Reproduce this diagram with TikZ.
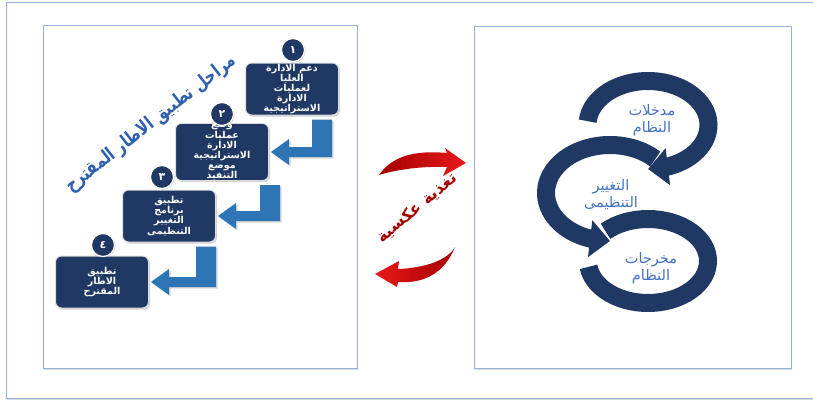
\documentclass[tikz,border=0pt]{standalone}
\usepackage{fontspec}
\newfontfamily\arabicfont[Script=Arabic]{DejaVu Sans}
\TeXXeTstate=1
\usetikzlibrary{arrows.meta,bending,shadows,calc}

\definecolor{boxnavy}{RGB}{31,56,100}
\definecolor{stepblue}{RGB}{46,117,182}
\definecolor{titleblue}{RGB}{47,95,175}
\definecolor{ringblue}{RGB}{68,114,196}
\definecolor{framecol}{RGB}{149,179,215}
\definecolor{fbdark}{RGB}{165,0,0}
\definecolor{fbred}{RGB}{232,25,25}

% one line of right-to-left text
\newcommand\artxt[1]{\beginR #1\endR}

% bent arrow from the step above to the step below
\newcommand\stepArrow[3]{%
  \fill[stepblue, drop shadow={shadow xshift=1.5pt, shadow yshift=-1.5pt, opacity=.3}]
    let \p1=(#1.south east), \p2=(#2.east) in
    (\x1+#3pt-20pt,\y1-4pt) -- (\x1+#3pt,\y1-4pt) -- (\x1+#3pt,\y2-5pt)
    -- (\x2+20pt,\y2-5pt) -- (\x2+20pt,\y2-13pt) -- (\x2+2pt,\y2)
    -- (\x2+20pt,\y2+13pt) -- (\x2+20pt,\y2+5pt) -- (\x1+#3pt-20pt,\y2+5pt) -- cycle;}

\begin{document}
\begin{tikzpicture}[x=1pt, y=1pt, >=latex,
  frame/.style={draw=framecol, line width=1pt, fill=white,
    drop shadow={shadow xshift=1pt, shadow yshift=-1.5pt, opacity=.3}},
  stepbox/.style={draw=white!75!gray, line width=1pt, fill=boxnavy, rounded corners=6pt,
    minimum width=93pt, minimum height=52pt, inner sep=0pt, align=center, text=white,
    font=\arabicfont\bfseries\fontsize{9.5}{10.2}\selectfont,
    drop shadow={shadow xshift=1.5pt, shadow yshift=-1.5pt, opacity=.35}},
  stepnum/.style={circle, draw=white, line width=1.2pt, fill=boxnavy, minimum size=23pt,
    inner sep=0pt, text=white, font=\arabicfont\bfseries\fontsize{11}{11}\selectfont,
    drop shadow={shadow xshift=1pt, shadow yshift=-1pt, opacity=.35}},
  title/.style={text=titleblue, font=\arabicfont\bfseries\fontsize{19}{20}\selectfont},
  ring/.style={draw=boxnavy, line width=18pt, preaction={draw=white, line width=22pt}},
  ringtip/.style={-{Triangle[length=20pt,width=36pt]}},
  ringtext/.style={text=ringblue, align=center, font=\arabicfont\fontsize{14.5}{17}\selectfont},
  fbtext/.style={text=fbdark, font=\arabicfont\bfseries\fontsize{16}{16}\selectfont}]

\useasboundingbox (0,0) rectangle (813,408);
\clip (0,0) rectangle (813,408);

% Draw the outer frame and the two panels
\draw[frame] (6,10) rectangle (830,405);
\draw[frame] (43,40) rectangle (357,382);
\draw[frame] (474,40) rectangle (791,381);

% left panel: the title
\node[title, rotate=38] (title) at (151,284) {\scalebox{.78}[1]{\artxt{مراحل تطبيق الاطار المقترح}}};

% the four steps
\node[stepbox] (b1) at (292,319) {\artxt{دعم الادارة}\\\artxt{العليا}\\\artxt{لعمليات}\\\artxt{الادارة}\\\artxt{الاستراتيجية}};
\node[stepbox] (b2) at (222,256) {\artxt{وضع}\\\artxt{عمليات}\\\artxt{الادارة}\\\artxt{الاستراتيجية}\\\artxt{موضع}\\\artxt{التنفيذ}};
\node[stepbox] (b3) at (169,192) {\artxt{تطبيق}\\\artxt{برنامج}\\\artxt{التغيير}\\\artxt{التنظيمى}};
\node[stepbox] (b4) at (102,126) {\artxt{تطبيق}\\\artxt{الاطار}\\\artxt{المقترح}};

% the arrows between them
\stepArrow{b1}{b2}{-7}
\stepArrow{b2}{b3}{11}
\stepArrow{b3}{b4}{0}

% the numbers
\node[stepnum] (n1) at (293,358) {١};
\node[stepnum] (n2) at (222,294) {٢};
\node[stepnum] (n3) at (162,231) {٣};
\node[stepnum] (n4) at (103,163) {٤};

% middle: feedback
\shade[left color=fbdark, right color=fbred] (379,233) .. controls (392,252) and (415,258) .. (447,255)
  -- (445,260) -- (466,245) -- (443,232) -- (447,241) .. controls (420,242) and (395,238) .. cycle;
\shade[left color=fbred, right color=fbdark] (455,161) .. controls (445,136) and (425,124) .. (398,126)
  -- (397,121) -- (375,134) -- (399,147) -- (398,139) .. controls (425,140) and (448,148) .. cycle;
\node[fbtext, rotate=40] (fb) at (417,200) {\artxt{تغذية عكسية}};

% right panel: the three rings
\coordinate (rin) at (648,283);
\coordinate (rchg) at (610,215);
\coordinate (rout) at (648,147);
\draw[ring] (rout) ++(135:60 and 42) arc[start angle=135, end angle=-172, x radius=60, y radius=42];
\draw[ring, ringtip] (rchg) ++(45:64 and 48) arc[start angle=45, end angle=270, x radius=64, y radius=48];
\draw[ring, ringtip] (rin) ++(175:60.5 and 44) arc[start angle=175, end angle=-90, x radius=60.5, y radius=44];

\node[ringtext] (inp) at (652,288) {\artxt{مدخلات}\\\artxt{النظام}};
\node[ringtext] (chg) at (611,213) {\artxt{التغيير}\\\artxt{التنظيمى}};
\node[ringtext] (outp) at (651,140) {\artxt{مخرجات}\\\artxt{النظام}};

\end{tikzpicture}
\end{document}
